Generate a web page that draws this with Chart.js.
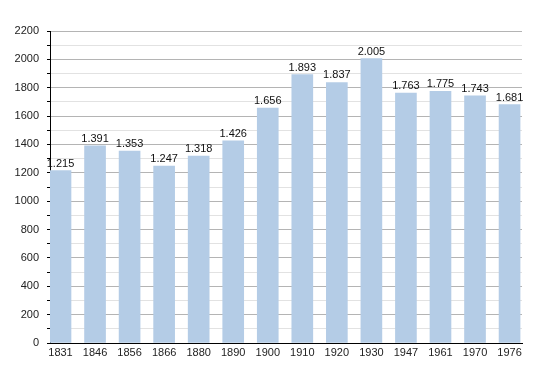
<!DOCTYPE html>
<html lang="en">
<head>
  <meta charset="UTF-8">
  <title>Population</title>
  <script src="https://cdn.jsdelivr.net/npm/chart.js"></script>
  <style>
    html, body { margin: 0; padding: 0; background: #fff; }
    #wrap { width: 550px; height: 373px; }
  </style>
</head>
<body>
  <div id="wrap"><canvas id="chart"></canvas></div>
  <script>
    const years = ['1831', '1846', '1856', '1866', '1880', '1890', '1900', '1910', '1920', '1930', '1947', '1961', '1970', '1976'];
    const population = [1215, 1391, 1353, 1247, 1318, 1426, 1656, 1893, 1837, 2005, 1763, 1775, 1743, 1681];

    // thousands with a dot, as in the original
    const fmt = (v) => String(v).replace(/\B(?=(\d{3})+(?!\d))/g, '.');

    const valueLabels = {
      id: 'valueLabels',
      afterDatasetsDraw(chart) {
        const ctx = chart.ctx;
        const meta = chart.getDatasetMeta(0);
        ctx.save();
        ctx.font = '11px "Liberation Sans", Arial, sans-serif';
        ctx.fillStyle = '#111';
        ctx.textAlign = 'center';
        ctx.textBaseline = 'alphabetic';
        meta.data.forEach((bar, i) => {
          ctx.fillText(fmt(population[i]), bar.x, bar.y - 4);
        });
        ctx.restore();
      }
    };

    new Chart(document.getElementById('chart'), {
      type: 'bar',
      data: {
        datasets: [{
          data: population.map((v, i) => ({ x: i, y: v })),
          backgroundColor: '#b4cce6',
          borderWidth: 0,
          barThickness: 21,
        }],
      },
      options: {
        responsive: true,
        maintainAspectRatio: false,
        animation: false,
        layout: { padding: { top: 31, right: 28, left: 0, bottom: 0 } },
        plugins: { legend: { display: false }, tooltip: { enabled: false } },
        scales: {
          x: {
            type: 'linear',
            offset: false,
            min: -0.304,
            max: 13.36,
            grid: { display: false, drawTicks: false, tickLength: 0 },
            border: { display: true, color: '#000', width: 1 },
            ticks: {
              stepSize: 1,
              includeBounds: false,
              autoSkip: false,
              maxRotation: 0,
              padding: 3,
              color: '#222',
              font: { family: '"Liberation Sans", Arial, sans-serif', size: 11 },
              callback: (v) => years[v] ?? '',
            },
            afterFit: (s) => { s.height = 30; },
          },
          y: {
            min: 0,
            max: 2200,
            grid: {
              color: (c) => (c.tick && c.tick.value % 200 === 0 ? '#b4b4b4' : '#e2e2e2'),
              tickColor: '#000',
              tickLength: 3,
            },
            border: { display: true, color: '#000', width: 1 },
            ticks: {
              stepSize: 100,
              autoSkip: false,
              padding: 8,
              color: '#222',
              font: { family: '"Liberation Sans", Arial, sans-serif', size: 11 },
              callback: (v) => (v % 200 === 0 ? v : ''),
            },
            afterFit: (s) => { s.width = 50; },
          },
        },
      },
      plugins: [valueLabels],
    });
  </script>
</body>
</html>
